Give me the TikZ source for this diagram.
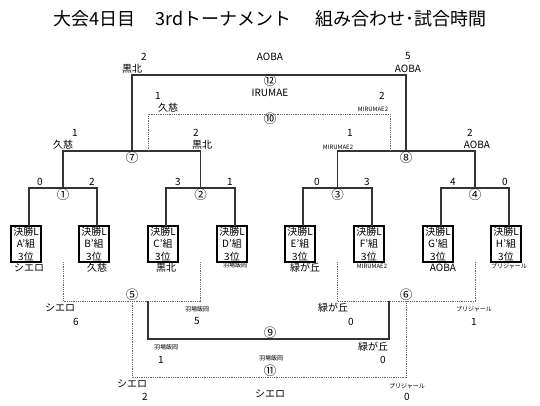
\documentclass[tikz,border=0pt]{standalone}
\usepackage{fontspec}
\setmainfont{Noto Sans CJK JP}
\begin{document}
\begin{tikzpicture}[x=1pt,y=-1pt,
  lbl/.style={font=\fontsize{10}{10}\selectfont, inner sep=0pt},
  sml/.style={font=\fontsize{6}{6}\selectfont, inner sep=0pt},
  circ/.style={font=\fontsize{12.5}{12.5}\selectfont, inner sep=0pt},
  teambox/.style={draw, line width=1.1pt, minimum width=30pt, minimum height=36pt, inner sep=0pt, align=center, font=\fontsize{10}{12.5}\selectfont},
  winline/.style={draw=black!80, line width=1.2pt},
  dotline/.style={draw=black!60, line width=0.9pt, dash pattern=on 0.9pt off 0.9pt}]
\useasboundingbox (0,0) rectangle (540,405);
\fill[white] (0,0) rectangle (540,405);

% title
\node[font=\fontsize{18}{18}\selectfont, inner sep=0pt] (title) at (270,19) {大会4日目\hspace{1.1em}3rdトーナメント\hspace{1.3em}組み合わせ･試合時間};

% boxes
\node[teambox] (bA) at (26,244) {決勝L\\A'組\\3位};
\node[teambox] (bB) at (94,244) {決勝L\\B'組\\3位};
\node[teambox] (bC) at (163,244) {決勝L\\C'組\\3位};
\node[teambox] (bD) at (232,244) {決勝L\\D'組\\3位};
\node[teambox] (bE) at (300,244) {決勝L\\E'組\\3位};
\node[teambox] (bF) at (369,244) {決勝L\\F'組\\3位};
\node[teambox] (bG) at (438,244) {決勝L\\G'組\\3位};
\node[teambox] (bH) at (506,244) {決勝L\\H'組\\3位};

% box top anchors
\coordinate (tA) at (29,226); \coordinate (tB) at (97,226);
\coordinate (tC) at (166,226); \coordinate (tD) at (235,226);
\coordinate (tE) at (303,226); \coordinate (tF) at (372,226);
\coordinate (tG) at (441,226); \coordinate (tH) at (509,226);

% junctions
\coordinate (j1) at (63,188); \coordinate (j2) at (200.5,188);
\coordinate (j3) at (337.5,188); \coordinate (j4) at (475,188);
\coordinate (j7) at (132,151); \coordinate (j8) at (406,151);
\coordinate (j12) at (270,75);
\coordinate (a10) at (148,151); \coordinate (j10) at (270,114); \coordinate (b10) at (390,151);
\coordinate (d1) at (63,262); \coordinate (d2) at (200.5,262);
\coordinate (d3) at (337.5,262); \coordinate (d4) at (475,262);
\coordinate (j5) at (132,301); \coordinate (j6) at (406,301);
\coordinate (a9) at (148,301); \coordinate (j9) at (270,339); \coordinate (b9) at (389,301);
\coordinate (j11) at (270,377);

% winners' bracket
\draw[winline] (tA) |- (j1) -| (tB);
\draw[winline] (tC) |- (j2) -| (tD);
\draw[winline] (tE) |- (j3) -| (tF);
\draw[winline] (tG) |- (j4) -| (tH);
\draw[winline] (j1) |- (j7) -| (j2);
\draw[winline] (j3) |- (j8) -| (j4);
\draw[winline] (j7) |- (j12) -| (j8);
\draw[dotline] (a10) |- (j10) -| (b10);

% losers' bracket
\draw[dotline] (d1) |- (j5) -| (d2);
\draw[dotline] (d3) |- (j6) -| (d4);
\draw[winline] (a9) |- (j9) -| (b9);
\draw[dotline] (j5) |- (j11) -| (j6);

% circled match numbers
\node[circ] (c1) at (63,195) {①};
\node[circ] (c2) at (200.5,195) {②};
\node[circ] (c3) at (337.5,195) {③};
\node[circ] (c4) at (475,195) {④};
\node[circ] (c7) at (132,157.5) {⑦};
\node[circ] (c8) at (406,157.5) {⑧};
\node[circ] (c12) at (270,81) {⑫};
\node[circ] (c10) at (270,119) {⑩};
\node[circ] (c5) at (132,295) {⑤};
\node[circ] (c6) at (406,295) {⑥};
\node[circ] (c9) at (270,333) {⑨};
\node[circ] (c11) at (270,371) {⑪};

% top labels
\node[lbl] (s12a) at (144,57) {2};
\node[lbl] (n12a) at (132,69) {黒北};
\node[lbl] (w12) at (270,57) {AOBA};
\node[lbl] (s12b) at (408,56) {5};
\node[lbl] (n12b) at (408,69) {AOBA};
\node[lbl] (v12) at (270,93) {IRUMAE};
\node[lbl] (s10a) at (158,96) {1};
\node[lbl] (n10a) at (168,108) {久慈};
\node[lbl] (s10b) at (382,96) {2};
\node[sml] (n10b) at (373,109) {MIRUMAE2};
\node[lbl] (s7a) at (75,133) {1};
\node[lbl] (n7a) at (63,145) {久慈};
\node[lbl] (s7b) at (196,133) {2};
\node[lbl] (n7b) at (202,145) {黒北};
\node[lbl] (s8a) at (350,133) {1};
\node[sml] (n8a) at (338,147) {MIRUMAE2};
\node[lbl] (s8b) at (470,133) {2};
\node[lbl] (n8b) at (477,145) {AOBA};

% round 1 scores
\node[lbl] (sA) at (40,182) {0};
\node[lbl] (sB) at (92,182) {2};
\node[lbl] (sC) at (178,182) {3};
\node[lbl] (sD) at (230,182) {1};
\node[lbl] (sE) at (317,182) {0};
\node[lbl] (sF) at (367,182) {3};
\node[lbl] (sG) at (453,182) {4};
\node[lbl] (sH) at (505,182) {0};

% team names under boxes
\node[lbl] (nA) at (29,268) {シエロ};
\node[lbl] (nB) at (97,268) {久慈};
\node[lbl] (nC) at (166,268) {黒北};
\node[sml] (nD) at (235,265.5) {羽場飯岡};
\node[lbl] (nE) at (305,268) {緑が丘};
\node[sml] (nF) at (372,266) {MIRUMAE2};
\node[lbl] (nG) at (443,268) {AOBA};
\node[sml] (nH) at (509,266) {プリジャール};

% bottom labels
\node[lbl] (n5a) at (60,308) {シエロ};
\node[lbl] (s5a) at (76,322) {6};
\node[sml] (n5b) at (197,309) {羽場飯岡};
\node[lbl] (s5b) at (197,321) {5};
\node[lbl] (n6a) at (333,308) {緑が丘};
\node[lbl] (s6a) at (351,322) {0};
\node[sml] (n6b) at (474,309) {プリジャール};
\node[lbl] (s6b) at (474,322) {1};
\node[sml] (n9a) at (166,347) {羽場飯岡};
\node[lbl] (s9a) at (161,360) {1};
\node[lbl] (n9b) at (373,347) {緑が丘};
\node[lbl] (s9b) at (383,360) {0};
\node[sml] (v11) at (271,358) {羽場飯岡};
\node[lbl] (n11a) at (132,384) {シエロ};
\node[lbl] (s11a) at (145,397) {2};
\node[lbl] (w11) at (270,394) {シエロ};
\node[sml] (n11b) at (407,386) {プリジャール};
\node[lbl] (s11b) at (407,397) {0};
\end{tikzpicture}
\end{document}
